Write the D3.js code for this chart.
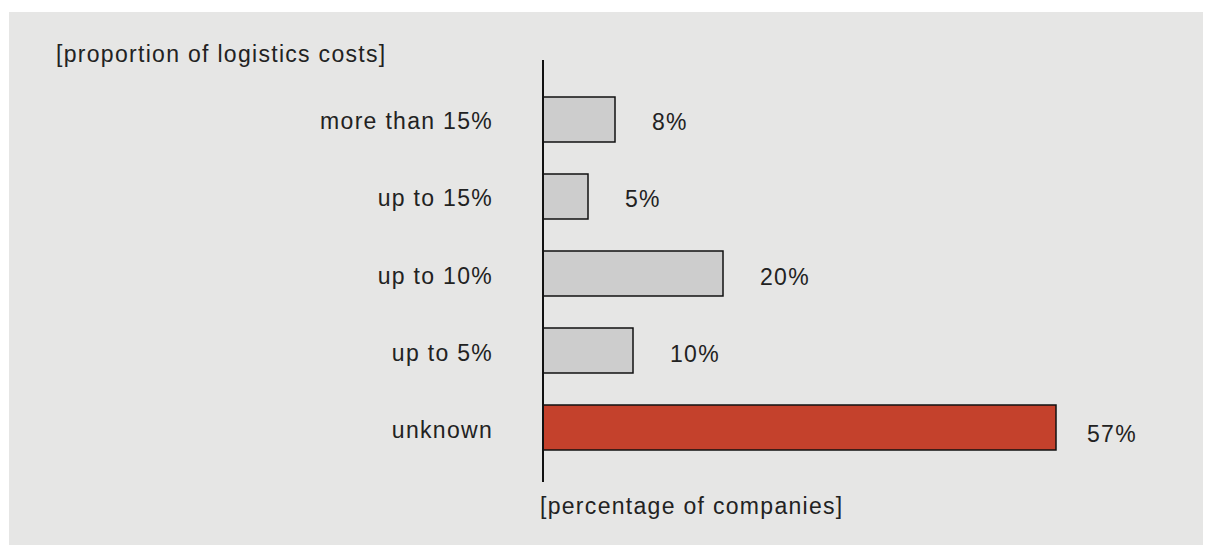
<!DOCTYPE html>
<html>
<head>
<meta charset="utf-8">
<script src="https://cdn.jsdelivr.net/npm/d3@7"></script>
<style>
  html, body { margin: 0; padding: 0; background: #ffffff; }
  svg { display: block; }
  text { font-family: "Liberation Sans", "DejaVu Sans", sans-serif; fill: #222; letter-spacing: 1.3px; }
</style>
</head>
<body>
<svg id="chart" width="1208" height="545"></svg>
<script>
// Data
var Categories = ["more than 15%", "up to 15%", "up to 10%", "up to 5%", "unknown"];
var Values = [8, 5, 20, 10, 57];
var ValueLabels = ["8%", "5%", "20%", "10%", "57%"];
var Highlight = ["unknown"];

// Layout
var Svg = d3.select("#chart");
var Width = 1208, Height = 545;
var AxisX = 543;
var FontSize = 23;

// Background panel
Svg.append("rect")
    .attr("x", 9).attr("y", 12)
    .attr("width", 1194).attr("height", Height - 12)
    .attr("fill", "#e6e6e5");

// Scales
var X = d3.scaleLinear().domain([0, 57]).range([AxisX, AxisX + 513]);
var Y = d3.scaleBand().domain(Categories).range([66.2, 480.8]).paddingInner(0.4156).paddingOuter(0.4);
var Mid = (C) => Y(C) + Y.bandwidth() / 2;

// Bars
Svg.append("g").selectAll("rect").data(Categories).join("rect")
    .attr("x", X(0))
    .attr("y", (C) => Y(C))
    .attr("width", (C, I) => X(Values[I]) - X(0))
    .attr("height", Y.bandwidth())
    .attr("fill", (C) => Highlight.includes(C) ? "#c4412c" : "#cdcdcd")
    .attr("stroke", "#111")
    .attr("stroke-width", 1.5);

// Value labels
Svg.append("g").selectAll("text").data(Categories).join("text")
    .attr("x", (C, I) => X(Values[I]) + (Highlight.includes(C) ? 31 : 37))
    .attr("y", (C) => Mid(C) + (Highlight.includes(C) ? 14 : 11))
    .attr("font-size", FontSize)
    .text((C, I) => ValueLabels[I]);

// Category labels
Svg.append("g").selectAll("text").data(Categories).join("text")
    .attr("x", 493)
    .attr("y", (C) => Mid(C) + 10)
    .attr("text-anchor", "end")
    .attr("font-size", FontSize)
    .text((C) => C);

// Axis line
Svg.append("line")
    .attr("x1", AxisX).attr("x2", AxisX)
    .attr("y1", 60).attr("y2", 482)
    .attr("stroke", "#111").attr("stroke-width", 2);

// Titles
Svg.append("text").attr("x", 56).attr("y", 62).attr("font-size", FontSize)
    .text("[proportion of logistics costs]");
Svg.append("text").attr("x", 540).attr("y", 514).attr("font-size", FontSize)
    .text("[percentage of companies]");
</script>
</body>
</html>
